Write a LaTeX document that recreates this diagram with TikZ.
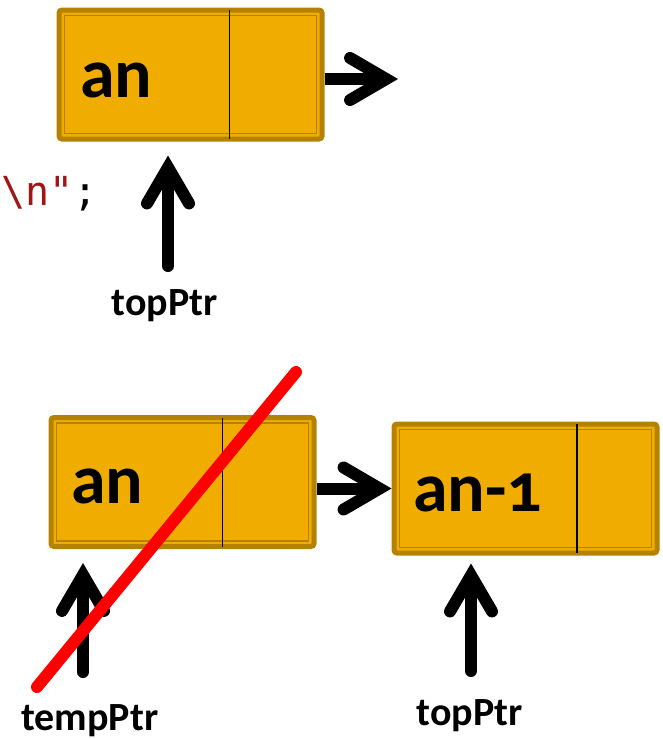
\documentclass[tikz,border=0pt]{standalone}
\usepackage{fontspec}
\setmainfont{Carlito}[Numbers=OldStyle]
\newfontfamily\codefont{DejaVu Sans Mono}
\usetikzlibrary{arrows.meta}
\definecolor{boxfill}{RGB}{240,173,0}
\definecolor{boxborder}{RGB}{181,129,0}
\definecolor{codered}{RGB}{163,21,21}
\definecolor{strikered}{RGB}{255,0,0}
\tikzset{
  cell/.style={draw=boxborder, fill=boxfill, line width=5pt, rounded corners=3pt,
    minimum width=263pt, minimum height=129pt, inner sep=0pt},
  innerline/.style={draw=boxborder, line width=1.8pt},
  divider/.style={draw=black, line width=1.2pt},
  celltext/.style={font=\bfseries\fontsize{70}{70}\selectfont, inner sep=0pt, anchor=base west},
  ptrlabel/.style={font=\bfseries\fontsize{40}{40}\selectfont, inner sep=0pt, anchor=base},
  ptr/.style={line width=12pt, line cap=round,
    -{Straight Barb[length=36pt,width=42pt,line join=miter,line cap=round]}},
  hptr/.style={ptr, line cap=butt},
  strike/.style={draw=strikered, line width=12pt, line cap=round}
}
\begin{document}
\begin{tikzpicture}[x=1pt,y=-1pt]
\useasboundingbox (0,0) rectangle (663,739);

% boxes
\node[cell] (a) at (190.5,74.5) {};
\node[cell] (bl) at (182.5,482) {};
\node[cell] (br) at (525.5,488.5) {};

\foreach \n/\d in {a/173pt, bl/174pt, br/185.5pt}{
  \draw[innerline] ([shift={(8,8)}]\n.north west) rectangle ([shift={(-8,-8)}]\n.south east);
  \draw[divider] ([xshift=\d,yshift=-2.5pt]\n.north west) -- ([xshift=\d,yshift=2.5pt]\n.south west);
}

% box texts
\node[celltext] (ta) at (80,97) {an};
\node[celltext] (tbl) at (71,503) {an};
\node[celltext] (tbr) at (413,511) {an-1};

% code fragment
\node[font=\codefont\fontsize{40}{40}\selectfont, inner sep=0pt, anchor=base west] (code) at (1,205)
  {\textcolor{codered}{\string\n"};};

% labels
\node[ptrlabel] (l1) at (165,315) {topPtr};
\node[ptrlabel] (l2) at (90,730) {tempPtr};
\node[ptrlabel] (l3) at (470,725) {topPtr};

% arrow anchors
\coordinate (t1) at (398,79);
\coordinate (u1) at (168,266);
\coordinate (u2) at (83,672);
\coordinate (u3) at (471,671);

% arrows
\draw[hptr] (a.east |- t1) -- (t1);
\draw[hptr] (bl.east |- br.west) -- (br.west);
\draw[ptr, shorten >=14pt] (u1) -- (u1 |- a.south);
\draw[ptr, shorten >=14pt] (u2) -- (u2 |- bl.south);
\draw[ptr, shorten >=8pt] (u3) -- (u3 |- br.south);

% strike-through
\coordinate (r1) at (37,687);
\coordinate (r2) at (296,372);
\draw[strike] (r1) -- (r2);
\end{tikzpicture}
\end{document}
